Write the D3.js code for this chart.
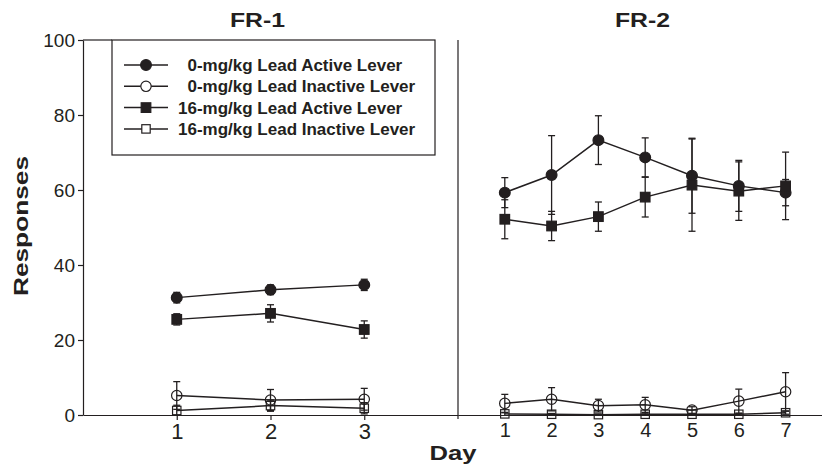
<!DOCTYPE html>
<html>
<head>
<meta charset="utf-8">
<script src="https://cdn.jsdelivr.net/npm/d3@7"></script>
<style>
body { margin: 0; background: #fff; }
text { font-family: "Liberation Sans", Arial, sans-serif; fill: #231f20; }
</style>
</head>
<body>
<div id="chart"></div>
<script>
// days in each phase
let days1 = [1, 2, 3];
let days2 = [1, 2, 3, 4, 5, 6, 7];
let yTicks = [0, 20, 40, 60, 80, 100];
let panelTitles = ["FR-1", "FR-2"];
let seriesNames = [
    "\u20070-mg/kg Lead Active Lever",
    "\u20070-mg/kg Lead Inactive Lever",
    "16-mg/kg Lead Active Lever",
    "16-mg/kg Lead Inactive Lever"
];

// FR-1 means / SEM
let ctlActive1 = [31.3, 33.4, 34.7];
let ctlActiveErr1 = [1.4, 1.3, 1.5];
let ctlInactive1 = [5.2, 4.0, 4.2];
let ctlInactiveErr1 = [3.7, 2.8, 2.9];
let leadActive1 = [25.5, 27.1, 22.8];
let leadActiveErr1 = [1.5, 2.3, 2.3];
let leadInactive1 = [1.2, 2.5, 1.8];
let leadInactiveErr1 = [1.4, 1.5, 1.5];

// FR-2 means / SEM
let ctlActive2 = [59.3, 64.0, 73.3, 68.7, 63.8, 61.1, 59.3];
let ctlActiveErr2 = [4.0, 10.5, 6.5, 5.2, 10.0, 6.8, 3.5];
let ctlInactive2 = [3.1, 4.2, 2.5, 2.7, 1.3, 3.7, 6.2];
let ctlInactiveErr2 = [2.4, 3.1, 1.7, 2.0, 0.9, 3.2, 5.1];
let leadActive2 = [52.2, 50.4, 52.9, 58.1, 61.3, 59.7, 61.1];
let leadActiveErr2 = [5.2, 3.9, 3.9, 5.3, 12.3, 7.8, 9.0];
let leadInactive2 = [0.3, 0.2, 0.1, 0.2, 0.2, 0.2, 0.6];
let leadInactiveErr2 = [0.3, 0.2, 0.2, 0.3, 0.2, 0.2, 0.4];

function main(){
    let ink = "#231f20";
    let width = 822, height = 469;

    let svg = d3.select("#chart").append("svg")
        .attr("width", width)
        .attr("height", height);

    let y = d3.scaleLinear().domain([0, 100]).range([415, 40]);
    let x1 = d3.scaleLinear().domain([0, 4]).range([83, 458]);
    let x2 = d3.scaleLinear().domain([0, 8]).range([458, 832.4]);

    let series = [
        {name: seriesNames[0], shape: "circle", filled: true,
            v: [ctlActive1, ctlActive2], e: [ctlActiveErr1, ctlActiveErr2]},
        {name: seriesNames[1], shape: "circle", filled: false,
            v: [ctlInactive1, ctlInactive2], e: [ctlInactiveErr1, ctlInactiveErr2]},
        {name: seriesNames[2], shape: "square", filled: true,
            v: [leadActive1, leadActive2], e: [leadActiveErr1, leadActiveErr2]},
        {name: seriesNames[3], shape: "square", filled: false,
            v: [leadInactive1, leadInactive2], e: [leadInactiveErr1, leadInactiveErr2]}
    ];

    function drawMarker(g, s, cx, cy, legend){
        if (s.shape === "circle") {
            g.append("circle")
                .attr("cx", cx).attr("cy", cy)
                .attr("r", s.filled ? 5.4 : 5.2)
                .attr("fill", s.filled ? ink : (legend ? "#fff" : "none"))
                .attr("stroke", ink)
                .attr("stroke-width", 1.2);
        } else {
            let side = s.filled ? 9.6 : 8.4;
            g.append("rect")
                .attr("x", cx - side / 2).attr("y", cy - side / 2)
                .attr("width", side).attr("height", side)
                .attr("fill", s.filled ? ink : (legend ? "#fff" : "none"))
                .attr("stroke", ink)
                .attr("stroke-width", 1.2);
        }
    }

    // y axis
    let yAxis = svg.append("g")
        .attr("transform", "translate(83,0)")
        .call(d3.axisLeft(y).tickValues(yTicks).tickSize(5).tickSizeOuter(0).tickPadding(3));
    yAxis.selectAll("text").attr("font-size", 19).attr("font-family", null);

    // x axes
    let xAxis1 = svg.append("g")
        .attr("transform", "translate(0,415)")
        .call(d3.axisBottom(x1).tickValues(days1).tickFormat(d3.format("d"))
            .tickSize(5).tickSizeOuter(0).tickPadding(3));
    xAxis1.selectAll("text").attr("font-size", 22).attr("font-family", null);

    let xAxis2 = svg.append("g")
        .attr("transform", "translate(0,415)")
        .call(d3.axisBottom(x2).tickValues(days2).tickFormat(d3.format("d"))
            .tickSize(0).tickSizeOuter(0).tickPadding(8));
    xAxis2.selectAll("text").attr("font-size", 20).attr("font-family", null);
    svg.selectAll(".tick line, .domain").attr("stroke", ink).attr("stroke-width", 1.2);
    svg.selectAll(".tick text").attr("fill", ink);

    // phase divider
    svg.append("line")
        .attr("x1", x1(4)).attr("x2", x1(4))
        .attr("y1", y(100)).attr("y2", y(0) + 4)
        .attr("stroke", ink).attr("stroke-width", 1.2);

    // panel titles
    [257.5, 642.5].forEach(function(cx, i){
        svg.append("text")
            .attr("transform", "translate(" + cx + ",26.7) scale(1.18,1)")
            .attr("text-anchor", "middle")
            .attr("font-size", 21)
            .attr("font-weight", "bold")
            .text(panelTitles[i]);
    });

    // axis titles
    svg.append("text")
        .attr("transform", "translate(28,226) rotate(-90) scale(1.25,1)")
        .attr("text-anchor", "middle")
        .attr("font-size", 21)
        .attr("font-weight", "bold")
        .text("Responses");

    svg.append("text")
        .attr("transform", "translate(453,460) scale(1.22,1)")
        .attr("text-anchor", "middle")
        .attr("font-size", 21)
        .attr("font-weight", "bold")
        .text("Day");

    // data
    let panels = [{x: x1, days: days1}, {x: x2, days: days2}];
    let line = d3.line();
    let plot = svg.append("g");

    panels.forEach(function(p, pi){
        series.forEach(function(s){
            let vals = s.v[pi];
            plot.append("path")
                .attr("d", line(p.days.map(function(d, i){ return [p.x(d), y(vals[i])]; })))
                .attr("fill", "none")
                .attr("stroke", ink)
                .attr("stroke-width", 1.5);
        });
        series.forEach(function(s){
            let vals = s.v[pi], errs = s.e[pi];
            let g = plot.append("g");
            p.days.forEach(function(d, i){
                let cx = p.x(d);
                let hi = vals[i] + errs[i];
                let lo = Math.max(0, vals[i] - errs[i]);
                g.append("line")
                    .attr("x1", cx).attr("x2", cx)
                    .attr("y1", y(hi)).attr("y2", y(lo))
                    .attr("stroke", ink).attr("stroke-width", 1.3);
                [hi, lo].forEach(function(b){
                    if (b <= 0) return;
                    g.append("line")
                        .attr("x1", cx - 3.5).attr("x2", cx + 3.5)
                        .attr("y1", y(b)).attr("y2", y(b))
                        .attr("stroke", ink).attr("stroke-width", 1.3);
                });
                drawMarker(g, s, cx, y(vals[i]), false);
            });
        });
    });

    // legend
    let legend = svg.append("g");
    legend.append("line")
        .attr("x1", 83).attr("x2", 112)
        .attr("y1", 40).attr("y2", 40)
        .attr("stroke", ink).attr("stroke-width", 1.2);
    legend.append("rect")
        .attr("x", 112).attr("y", 40)
        .attr("width", 323).attr("height", 115)
        .attr("fill", "#fff")
        .attr("stroke", ink)
        .attr("stroke-width", 1.2);

    series.forEach(function(s, i){
        let cy = 65 + i * 21.3;
        legend.append("line")
            .attr("x1", 124).attr("x2", 168)
            .attr("y1", cy).attr("y2", cy)
            .attr("stroke", ink).attr("stroke-width", 1.5);
        drawMarker(legend, s, 146, cy, true);
        legend.append("text")
            .attr("x", 178)
            .attr("y", cy + 6)
            .attr("font-size", 17)
            .attr("font-weight", "bold")
            .text(s.name);
    });
}

main();
</script>
</body>
</html>
